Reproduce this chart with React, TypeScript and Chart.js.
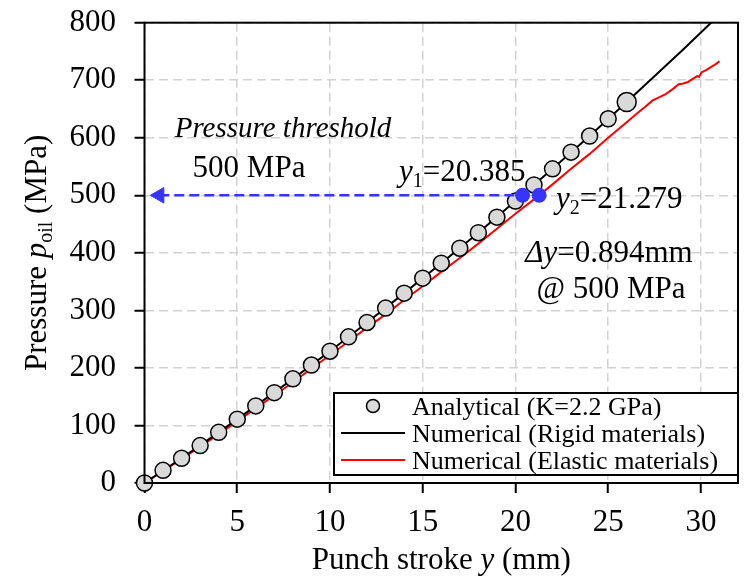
import React, { useEffect, useRef } from 'react';
import { Chart, registerables } from 'chart.js';

Chart.register(...registerables);

// ---- data ----
const ANALYTICAL_X = [0, 1, 2, 3, 4, 5, 6, 7, 8, 9, 10, 11, 12, 13, 14, 15, 16, 17, 18, 19, 20, 21, 22, 23, 24, 25, 26];
const ANALYTICAL_P = [0, 22, 43, 65, 88, 111, 134, 157, 181, 205, 229, 254, 279, 304, 330, 356, 382, 408, 435, 462, 490, 518, 546, 575, 603, 633, 662];

const RIGID_X = [0, 2, 4, 6, 8, 10, 12, 14, 16, 18, 20, 22, 24, 26, 27, 28, 29, 30, 31];
const RIGID_P = [0, 43, 88, 134, 181, 229, 279, 330, 382, 435, 490, 546, 603, 662, 692, 722, 752, 783, 814];

const ELASTIC_X = [0, 1, 2, 3, 4, 5, 6, 7, 8, 9, 10, 11, 12, 13, 14, 15, 16, 17, 18, 19, 20, 21, 22, 23, 24, 25, 26, 26.5, 27, 27.4, 27.8, 28.1, 28.5, 28.8, 29.0, 29.3, 29.5, 29.8, 29.9, 30.05, 30.3, 30.6, 30.8, 31.0];
const ELASTIC_P = [0, 21, 42, 63, 85, 107, 130, 152, 175, 199, 222, 246, 270, 293, 318, 342, 367, 391, 416, 442, 468, 493, 519, 546, 572, 600, 627, 641, 654, 665, 671, 676, 685, 693, 694, 697, 701, 707, 706, 714, 718, 724, 728, 733];

const X_TICKS = [0, 5, 10, 15, 20, 25, 30];
const Y_TICKS = [0, 100, 200, 300, 400, 500, 600, 700, 800];

const THRESHOLD = 500;
const CROSS_X = [20.385, 21.279];
const ARROW_X = [0.8, 20.385];

const LEGEND_LABELS = ['Analytical (K=2.2 GPa)', 'Numerical (Rigid materials)', 'Numerical (Elastic materials)'];

const FONT = '"Liberation Serif", "Times New Roman", serif';
const BLUE = '#3535ff';
const GRAY_FILL = '#d9d9d9';

type Seg = { t: string; italic?: boolean; sub?: boolean };

function drawRich(ctx: CanvasRenderingContext2D, segs: Seg[], x: number, y: number, size: number, align: 'left' | 'center') {
  const fontOf = (s: Seg) => `${s.italic ? 'italic ' : ''}${s.sub ? Math.round(size * 0.65) : size}px ${FONT}`;
  let total = 0;
  const widths = segs.map((s) => {
    ctx.font = fontOf(s);
    const w = ctx.measureText(s.t).width;
    total += w;
    return w;
  });
  let cx = align === 'center' ? x - total / 2 : x;
  ctx.textBaseline = 'alphabetic';
  ctx.textAlign = 'left';
  segs.forEach((s, i) => {
    ctx.font = fontOf(s);
    ctx.fillText(s.t, cx, s.sub ? y + size * 0.2 : y);
    cx += widths[i];
  });
}

const decorPlugin = {
  id: 'decor',
  afterDraw(chart: any) {
    const ctx: CanvasRenderingContext2D = chart.ctx;
    const a = chart.chartArea;
    ctx.save();
    // frame
    ctx.strokeStyle = '#000';
    ctx.lineWidth = 2;
    ctx.setLineDash([]);
    ctx.strokeRect(a.left, a.top, a.right - a.left, a.bottom - a.top);

    ctx.fillStyle = '#000';
    // axis titles
    drawRich(ctx, [{ t: 'Punch stroke ' }, { t: 'y', italic: true }, { t: ' (mm)' }], (a.left + a.right) / 2, 569, 31, 'center');
    ctx.save();
    ctx.translate(46, (a.top + a.bottom) / 2);
    ctx.rotate(-Math.PI / 2);
    drawRich(ctx, [{ t: 'Pressure ' }, { t: 'p', italic: true }, { t: 'oil', sub: true }, { t: ' (MPa)' }], 0, 0, 31, 'center');
    ctx.restore();

    // annotations
    drawRich(ctx, [{ t: 'Pressure threshold', italic: true }], 283, 137, 29, 'center');
    drawRich(ctx, [{ t: '500 MPa' }], 249, 177, 31, 'center');
    drawRich(ctx, [{ t: 'y', italic: true }, { t: '1', sub: true }, { t: '=20.385' }], 399, 181, 31, 'left');
    drawRich(ctx, [{ t: 'y', italic: true }, { t: '2', sub: true }, { t: '=21.279' }], 556, 208, 31, 'left');
    drawRich(ctx, [{ t: '\u0394y', italic: true }, { t: '=0.894mm' }], 609, 262, 31, 'center');
    drawRich(ctx, [{ t: '@ 500 MPa' }], 611, 298, 31, 'center');

    // legend
    const lx = 334, ly = 393, lw = 404, lh = 82;
    ctx.fillStyle = '#fff';
    ctx.fillRect(lx, ly, lw, lh);
    ctx.strokeStyle = '#000';
    ctx.lineWidth = 2;
    ctx.strokeRect(lx, ly, lw, lh);
    const rowBase = [415, 442, 469];
    const sx0 = 341, sx1 = 405, tx = 412;
    // row 1 marker
    ctx.beginPath();
    ctx.arc((sx0 + sx1) / 2, rowBase[0] - 9, 6.5, 0, Math.PI * 2);
    ctx.fillStyle = GRAY_FILL;
    ctx.fill();
    ctx.lineWidth = 1.5;
    ctx.strokeStyle = '#000';
    ctx.stroke();
    // row 2 / 3 lines
    const colors = ['#000', '#ff0000'];
    [1, 2].forEach((r, i) => {
      ctx.beginPath();
      ctx.moveTo(sx0, rowBase[r] - 9);
      ctx.lineTo(sx1, rowBase[r] - 9);
      ctx.strokeStyle = colors[i];
      ctx.lineWidth = 2;
      ctx.stroke();
    });
    ctx.fillStyle = '#000';
    LEGEND_LABELS.forEach((lab, i) => drawRich(ctx, [{ t: lab }], tx, rowBase[i], 26, 'left'));
    ctx.restore();
  },
};

export default function App() {
  const ref = useRef<HTMLCanvasElement | null>(null);
  useEffect(() => {
    if (!ref.current) return;
    const last = ANALYTICAL_X.length - 1;
    const chart = new Chart(ref.current, {
      type: 'line',
      data: {
        datasets: [
          {
            label: 'cross',
            data: CROSS_X.map((x) => ({ x, y: THRESHOLD })),
            showLine: false,
            pointRadius: 7.5,
            pointBackgroundColor: BLUE,
            pointBorderWidth: 0,
            pointBorderColor: BLUE,
            clip: false as any,
          },
          {
            label: 'arrowhead',
            data: [{ x: ARROW_X[0], y: THRESHOLD }],
            showLine: false,
            pointStyle: 'triangle',
            pointRotation: -90,
            pointRadius: 9,
            pointBackgroundColor: BLUE,
            pointBorderColor: BLUE,
            pointBorderWidth: 1,
            clip: false as any,
          },
          {
            label: 'arrow',
            data: ARROW_X.map((x) => ({ x, y: THRESHOLD })),
            borderColor: BLUE,
            borderWidth: 2.5,
            borderDash: [10, 5],
            pointRadius: 0,
            clip: false as any,
          },
          {
            label: LEGEND_LABELS[0],
            data: ANALYTICAL_X.map((x, i) => ({ x, y: ANALYTICAL_P[i] })),
            showLine: false,
            pointRadius: ANALYTICAL_X.map((_, i) => (i === last ? 9.5 : 8)),
            pointBackgroundColor: GRAY_FILL,
            pointBorderColor: '#000',
            pointBorderWidth: 1.5,
            clip: false as any,
          },
          {
            label: LEGEND_LABELS[1],
            data: RIGID_X.map((x, i) => ({ x, y: RIGID_P[i] })),
            borderColor: '#000',
            borderWidth: 2,
            pointRadius: 0,
            tension: 0,
            clip: 0 as any,
          },
          {
            label: LEGEND_LABELS[2],
            data: ELASTIC_X.map((x, i) => ({ x, y: ELASTIC_P[i] })),
            borderColor: '#ff0000',
            borderWidth: 2,
            pointRadius: 0,
            tension: 0,
            clip: false as any,
          },
        ],
      },
      options: {
        responsive: false,
        animation: false,
        events: [],
        layout: { padding: { top: 22.7, right: 5, left: 0, bottom: 0 } },
        plugins: { legend: { display: false }, tooltip: { enabled: false }, title: { display: false } },
        scales: {
          x: {
            type: 'linear',
            min: 0,
            max: 32,
            afterBuildTicks: (s: any) => {
              s.ticks = X_TICKS.map((v) => ({ value: v }));
            },
            afterFit: (s: any) => {
              s.height = 94;
              s.paddingLeft = 0;
              s.paddingRight = 0;
            },
            grid: { color: '#d2d2d2', lineWidth: 1.5, tickLength: 10, tickColor: '#000', tickWidth: 2, drawTicks: true },
            border: { display: false, dash: [9, 5] },
            ticks: { font: { family: FONT, size: 31 }, color: '#000', padding: 11, maxRotation: 0, autoSkip: false },
          },
          y: {
            type: 'linear',
            min: 0,
            max: 800,
            afterBuildTicks: (s: any) => {
              s.ticks = Y_TICKS.map((v) => ({ value: v }));
            },
            afterFit: (s: any) => {
              s.width = 144.5;
              s.paddingTop = 0;
              s.paddingBottom = 0;
            },
            grid: { color: '#d2d2d2', lineWidth: 1.5, tickLength: 10, tickColor: '#000', tickWidth: 2, drawTicks: true },
            border: { display: false, dash: [9, 5] },
            ticks: { font: { family: FONT, size: 31 }, color: '#000', padding: 18.5, autoSkip: false },
          },
        },
      },
      plugins: [decorPlugin],
    } as any);
    return () => chart.destroy();
  }, []);
  return (
    <div style={{ position: 'fixed', left: 0, top: 0, width: 749, height: 577, background: '#fff' }}>
      <canvas ref={ref} width={749} height={577} style={{ display: 'block', width: 749, height: 577 }} />
    </div>
  );
}
